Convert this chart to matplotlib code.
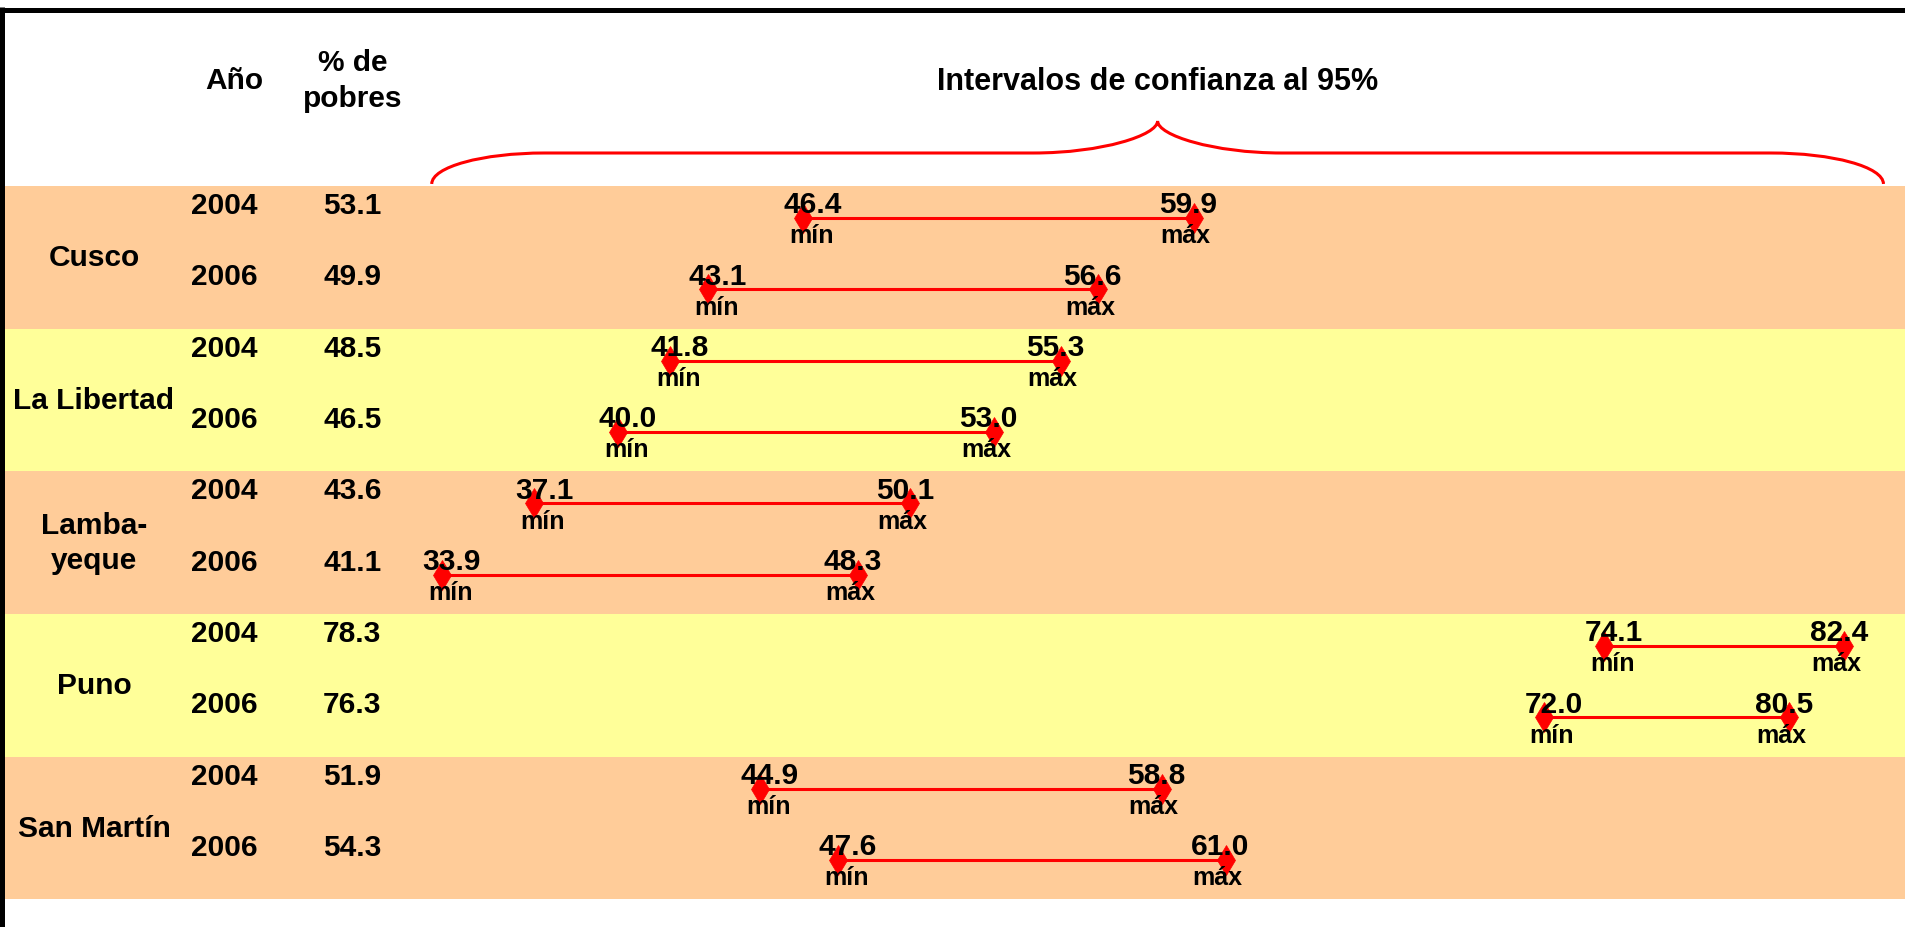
import matplotlib
matplotlib.use("Agg")
import matplotlib.pyplot as plt
import matplotlib.transforms as mtransforms
from matplotlib.path import Path
from matplotlib.patches import PathPatch
from matplotlib.lines import Line2D
import numpy as np

plt.rcParams['font.family'] = ['Liberation Sans', 'DejaVu Sans']
plt.rcParams['font.weight'] = 'bold'

# datos
regiones = ["Cusco", "La Libertad", "Lamba-\nyeque", "Puno", "San Martín"]
anios = ["2004", "2006"]
pobres = [53.1, 49.9, 48.5, 46.5, 43.6, 41.1, 78.3, 76.3, 51.9, 54.3]
minimos = [46.4, 43.1, 41.8, 40.0, 37.1, 33.9, 74.1, 72.0, 44.9, 47.6]
maximos = [59.9, 56.6, 55.3, 53.0, 50.1, 48.3, 82.4, 80.5, 58.8, 61.0]

colores_banda = ["#FFCC99", "#FFFF99"]
rojo = "#FF0000"

fig = plt.figure(figsize=(19.06, 9.28), dpi=100)
ax = fig.add_axes([0, 0, 1, 1])
ax.set_xlim(18.62, 84.53)
ax.set_ylim(9.94, -3.07)
ax.axis("off")

# x en fraccion de ejes, y en datos
tr = mtransforms.blended_transform_factory(ax.transAxes, ax.transData)

fs_tabla = 21.5
# bandas por region
for k, reg in enumerate(regiones):
    ax.axhspan(2 * k - 0.449, 2 * k + 1.551, xmin=5 / 1906, xmax=1,
               color=colores_banda[k % 2], lw=0, zorder=0)
    ax.text(0.0493, 2 * k + 0.55, reg, transform=tr, ha="center", va="center",
            fontsize=fs_tabla, fontweight="bold", linespacing=1.3)

filas = np.arange(len(pobres))
for i in filas:
    ax.text(0.1175, i - 0.07, anios[i % 2], transform=tr, ha="center",
            va="baseline", fontsize=fs_tabla, fontweight="bold")
    ax.text(0.1695, i - 0.07, f"{pobres[i]:.1f}", transform=tr, ha="left",
            va="baseline", fontsize=fs_tabla, fontweight="bold")

    lo, hi = minimos[i], maximos[i]
    ax.plot([lo, hi], [i, i], color=rojo, lw=2.2, zorder=2)
    ax.plot([lo, hi], [i, i], ls="none", marker="d", ms=15.5, color=rojo,
            mec=rojo, mew=0.5, zorder=3)
    ax.annotate(f"{lo:.1f}", (lo, i), xytext=(7, 4), textcoords="offset points",
                ha="center", va="baseline", fontsize=21.5, fontweight="bold", zorder=4)
    ax.annotate(f"{hi:.1f}", (hi, i), xytext=(-4, 4), textcoords="offset points",
                ha="center", va="baseline", fontsize=21.5, fontweight="bold", zorder=4)
    ax.annotate("mín", (lo, i), xytext=(6, -17.5), textcoords="offset points",
                ha="center", va="baseline", fontsize=18, fontweight="bold", zorder=4)
    ax.annotate("máx", (hi, i), xytext=(-6, -17.5), textcoords="offset points",
                ha="center", va="baseline", fontsize=18, fontweight="bold", zorder=4)

# encabezados
ax.text(0.123, -1.935, "Año", transform=tr, ha="center", va="center",
        fontsize=fs_tabla, fontweight="bold")
ax.text(0.185, -1.935, "% de\npobres", transform=tr, ha="center", va="center",
        fontsize=fs_tabla, fontweight="bold", linespacing=1.35)

# llave sobre los intervalos
L = min(minimos) - 0.35
R = max(maximos) + 1.35
M = (L + R) / 2
ybot, yh, ytip = -0.477, -0.911, -1.36
w1, w2, kk = 3.9, 4.3, 0.552
verts = [
    (L, ybot), (L, ybot + kk * (yh - ybot)), (L + w1 * (1 - kk), yh), (L + w1, yh),
    (M - w2, yh),
    (M - w2 + kk * w2, yh), (M, yh + kk * (ytip - yh)), (M, ytip),
    (M, yh + kk * (ytip - yh)), (M + w2 - kk * w2, yh), (M + w2, yh),
    (R - w1, yh),
    (R - w1 * (1 - kk), yh), (R, ybot + kk * (yh - ybot)), (R, ybot),
]
codes = [Path.MOVETO, Path.CURVE4, Path.CURVE4, Path.CURVE4,
         Path.LINETO,
         Path.CURVE4, Path.CURVE4, Path.CURVE4,
         Path.CURVE4, Path.CURVE4, Path.CURVE4,
         Path.LINETO,
         Path.CURVE4, Path.CURVE4, Path.CURVE4]
ax.add_patch(PathPatch(Path(verts, codes), fc="none", ec=rojo, lw=2.2, zorder=2))
ax.text(M, -1.92, "Intervalos de confianza al 95%", ha="center", va="center",
        fontsize=22, fontweight="bold")

# marco negro (arriba e izquierda)
ytop = 1 - 10.5 / 928
fig.add_artist(Line2D([0, 1], [ytop, ytop], color="black", lw=3.6,
                      solid_capstyle="butt", transform=fig.transFigure))
fig.add_artist(Line2D([2.5 / 1906, 2.5 / 1906], [0, 1 - 8 / 928], color="black",
                      lw=3.6, solid_capstyle="butt", transform=fig.transFigure))

plt.savefig("out.png", dpi=100)
